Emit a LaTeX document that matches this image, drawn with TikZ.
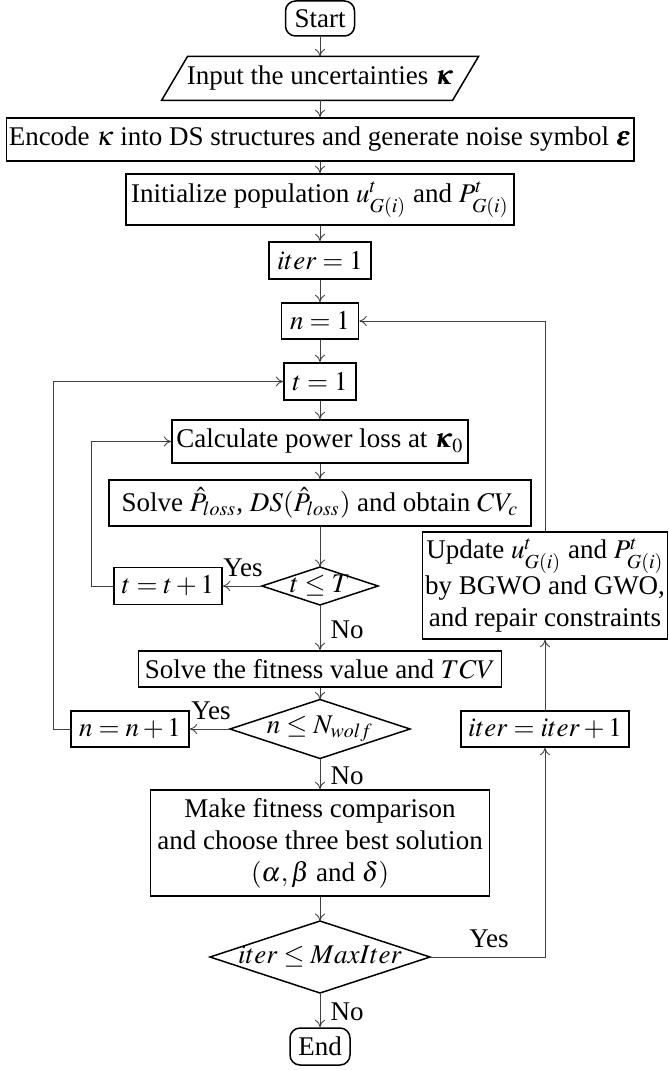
\documentclass[tikz,border=0pt]{standalone}
\usepackage{amsmath}
\usepackage{mathptmx}
\usepackage{bm}
\usepackage{fontspec}
\setmainfont{Liberation Serif}
\usetikzlibrary{calc,arrows.meta}
\begin{document}
\begin{tikzpicture}[x=0.4pt,y=-0.4pt,
  every node/.style={font=\fontsize{10.8}{12.8}\selectfont},
  sz/.style 2 args={minimum width=#1*0.4pt,minimum height=#2*0.4pt},
  box/.style={line width=0.6pt},
  stepbox/.style={draw, box, inner sep=1pt, align=center},
  plain/.style={inner sep=0pt, align=center},
  term/.style={stepbox, rounded corners=4pt},
  line/.style={draw=black!75, line width=0.35pt, -{To[length=3pt,width=4pt]}},
  lab/.style={inner sep=0pt}
]
\useasboundingbox (0,0) rectangle (668,1070);

\node[term, sz={69}{35}] (start) at (320,18.5) {Start};
\node[plain, sz={290}{43}] (input) at (320,78.5) {Input the uncertainties $\bm{\kappa}$};
\draw[box] ($(input.north west)+(13,0)$) -- ($(input.north east)+(13,0)$) -- ($(input.south east)+(-13,0)$) -- ($(input.south west)+(-13,0)$) -- cycle;
\node[stepbox, sz={626}{43}] (encode) at (320,139.5) {Encode $\kappa$ into DS structures and generate noise symbol $\bm{\varepsilon}$};
\node[stepbox, sz={388}{51}] (init) at (320,199.5) {Initialize population $u^{t}_{G(i)}$ and $P^{t}_{G(i)}$};
\node[stepbox, sz={102}{37}] (iter1) at (320,260.5) {$iter=1$};
\node[stepbox, sz={77}{36}] (n1) at (320,321) {$n=1$};
\node[stepbox, sz={72}{37}] (t1) at (320,381.5) {$t=1$};
\node[stepbox, sz={296}{43}] (calc) at (320,441.5) {Calculate power loss at $\bm{\kappa}_0$};
\node[stepbox, sz={422}{46}] (solve) at (320,503) {Solve $\hat{P}_{loss}$, $DS(\hat{P}_{loss})$ and obtain $CV_c$};
\node[plain, sz={115}{37}] (dT) at (320,586) {$t\le T$};
\draw[box] (dT.west) -- (dT.north) -- (dT.east) -- (dT.south) -- cycle;
\node[stepbox, sz={108}{37}] (tinc) at (168,586) {$t=t+1$};
\node[stepbox, sz={363}{36}] (fit) at (320,669) {Solve the fitness value and $TCV$};
\node[plain, sz={179}{58}] (dN) at (320,729) {$n\le N_{wolf}$};
\draw[box] (dN.west) -- (dN.north) -- (dN.east) -- (dN.south) -- cycle;
\node[stepbox, sz={118}{36}] (ninc) at (130,729) {$n=n+1$};
\node[stepbox, sz={168}{36}] (iterinc) at (545,729) {$iter=iter+1$};
\node[stepbox, sz={339}{106}] (make) at (320,843) {Make fitness comparison\\and choose three best solution\\$(\alpha,\beta$ and $\delta)$};
\node[plain, sz={219}{71}] (dM) at (320,957) {$iter\le MaxIter$};
\draw[box] (dM.west) -- (dM.north) -- (dM.east) -- (dM.south) -- cycle;
\node[term, sz={60}{37}] (end) at (320,1046.5) {End};
\node[stepbox, sz={244}{107}] (update) at (545,585.5) {Update $u^{t}_{G(i)}$ and $P^{t}_{G(i)}$\\by BGWO and GWO,\\and repair constraints};

\node[lab] (yT) at (243,568) {Yes};
\node[lab] (yN) at (211,711) {Yes};
\node[lab] (yM) at (489,939) {Yes};
\node[lab, anchor=west] (nT) at (330,630) {No};
\node[lab, anchor=west] (nN) at (330,776) {No};
\node[lab, anchor=west] (nM) at (330,1012) {No};

\draw[line] (start.south) -- (input.north);
\draw[line] (input.south) -- (encode.north);
\draw[line] (encode.south) -- (init.north);
\draw[line] (init.south) -- (iter1.north);
\draw[line] (iter1.south) -- (n1.north);
\draw[line] (n1.south) -- (t1.north);
\draw[line] (t1.south) -- (calc.north);
\draw[line] (calc.south) -- (solve.north);
\draw[line] (solve.south) -- (dT.north);
\draw[line] (dT.west) -- (tinc.east);
\draw[line] (tinc.west) -- ++(-22,0) |- (calc.west);
\draw[line] (dT.south) -- (fit.north);
\draw[line] (fit.south) -- (dN.north);
\draw[line] (dN.west) -- (ninc.east);
\draw[line] (ninc.west) -- ++(-17,0) |- (t1.west);
\draw[line] (dN.south) -- (make.north);
\draw[line] (make.south) -- (dM.north);
\draw[line] (dM.south) -- (end.north);
\draw[line] (dM.east) -| (iterinc.south);
\draw[line] (iterinc.north) -- (update.south);
\draw[line] (update.north) |- (n1.east);
\end{tikzpicture}
\end{document}
